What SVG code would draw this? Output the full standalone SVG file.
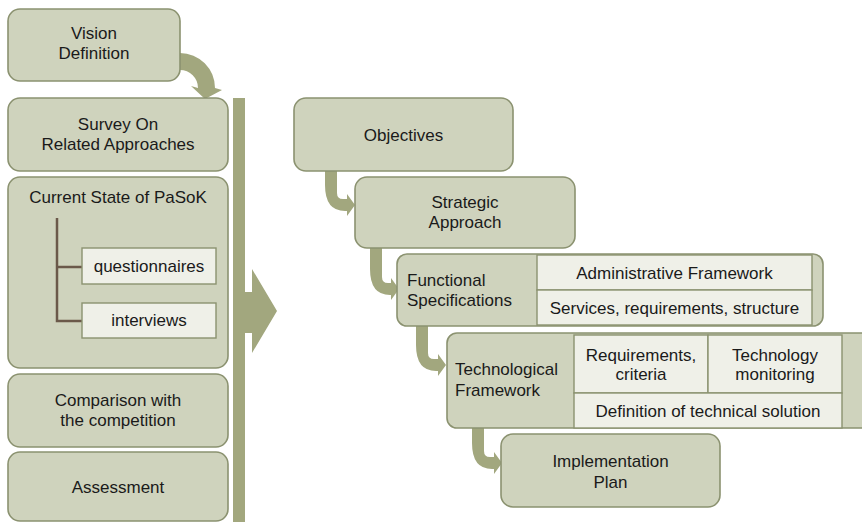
<svg xmlns="http://www.w3.org/2000/svg" width="862" height="522" viewBox="0 0 862 522">
<style>
.box{fill:#cfd3bd;stroke:#8b9270;stroke-width:1.6}
.cell{fill:#eff0e8;stroke:#8b9270;stroke-width:1.4}
.arr{fill:#a2a77e}
.tree{fill:none;stroke:#6b594a;stroke-width:2.5}
text{font-family:"Liberation Sans",Arial,sans-serif;font-size:17px;fill:#1a1a1a}
.c{text-anchor:middle}
</style>
<rect width="862" height="522" fill="#ffffff"/>
<g id="connectors">
<path class="arr" d="M180 53 A35 35 0 0 1 215 88 L222 90 L205 99 L191 86 L198 88 A18 18 0 0 0 180 70 Z"/>
<rect class="arr" x="233" y="98" width="12" height="424"/>
<polygon class="arr" points="245,292 252,292 252,269 277,311 252,353 252,333 245,333"/>
<path class="arr" d="M325 171 H337 V193 Q337 199 343 199 H347 V194 L355 205 L347 216 V211 H345 Q325 211 325 185 Z"/>
<path class="arr" d="M370 248 H382 V277 Q382 283 388 283 H391 V278 L399 289 L391 300 V295 H390 Q370 295 370 269 Z"/>
<path class="arr" d="M416 326 H428 V353 Q428 359 434 359 H438 V354 L446 365 L438 376 V371 H436 Q416 371 416 345 Z"/>
<path class="arr" d="M472 428 H484 V451 Q484 457 490 457 H494 V452 L502 463 L494 474 V469 H492 Q472 469 472 443 Z"/>
</g>
<g id="vision">
<rect class="box" x="8" y="9" width="172" height="72" rx="12"/>
<text class="c" x="94" y="39">Vision</text>
<text class="c" x="94" y="59">Definition</text>
</g>
<g id="survey">
<rect class="box" x="8" y="98" width="220" height="73" rx="12"/>
<text class="c" x="118" y="130">Survey On</text>
<text class="c" x="118" y="150">Related Approaches</text>
</g>
<g id="current-state">
<rect class="box" x="8" y="177" width="220" height="191" rx="12"/>
<text class="c" x="118" y="203">Current State of PaSoK</text>
<path class="tree" d="M57 218 V321 H82 M57 267 H82"/>
</g>
<g id="questionnaires">
<rect class="cell" x="82" y="248" width="134" height="36"/>
<text class="c" x="149" y="272">questionnaires</text>
</g>
<g id="interviews">
<rect class="cell" x="82" y="303" width="134" height="35"/>
<text class="c" x="149" y="326">interviews</text>
</g>
<g id="comparison">
<rect class="box" x="8" y="374" width="220" height="73" rx="12"/>
<text class="c" x="118" y="406">Comparison with</text>
<text class="c" x="118" y="426">the competition</text>
</g>
<g id="assessment">
<rect class="box" x="8" y="452" width="220" height="69" rx="12"/>
<text class="c" x="118" y="493">Assessment</text>
</g>
<g id="objectives">
<rect class="box" x="294" y="98" width="219" height="73" rx="12"/>
<text class="c" x="403.5" y="141">Objectives</text>
</g>
<g id="strategic">
<rect class="box" x="355" y="177" width="220" height="71" rx="12"/>
<text class="c" x="465" y="208">Strategic</text>
<text class="c" x="465" y="228">Approach</text>
</g>
<g id="functional">
<rect class="box" x="397" y="254" width="426" height="72" rx="10"/>
<text x="407" y="286">Functional</text>
<text x="407" y="306">Specifications</text>
<rect class="cell" x="537" y="255" width="275" height="35"/>
<text class="c" x="674.5" y="279">Administrative Framework</text>
<rect class="cell" x="537" y="290" width="275" height="35"/>
<text class="c" x="674.5" y="314">Services, requirements, structure</text>
</g>
<g id="technological">
<rect class="box" x="447" y="333" width="425" height="95" rx="10"/>
<text x="455" y="375">Technological</text>
<text x="455" y="396">Framework</text>
<rect class="cell" x="574" y="335" width="134" height="58"/>
<text class="c" x="641" y="361">Requirements,</text>
<text class="c" x="641" y="380">criteria</text>
<rect class="cell" x="708" y="335" width="134" height="58"/>
<text class="c" x="775" y="361">Technology</text>
<text class="c" x="775" y="380">monitoring</text>
<rect class="cell" x="574" y="393" width="268" height="35"/>
<text class="c" x="708" y="417">Definition of technical solution</text>
</g>
<g id="implementation">
<rect class="box" x="501" y="434" width="219" height="73" rx="12"/>
<text class="c" x="610.5" y="467">Implementation</text>
<text class="c" x="610.5" y="488">Plan</text>
</g>
</svg>
